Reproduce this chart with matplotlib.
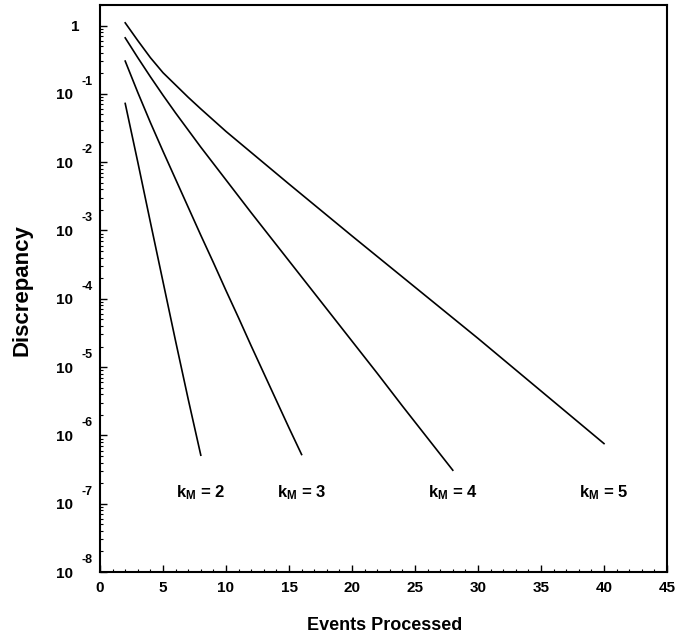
import matplotlib
matplotlib.use('Agg')
import matplotlib.pyplot as plt
import numpy as np
import matplotlib.transforms as mtransforms
from matplotlib.ticker import FixedLocator, MultipleLocator, LogLocator, FixedFormatter, NullFormatter

plt.rcParams['font.family'] = ['Liberation Sans', 'DejaVu Sans']
plt.rcParams['mathtext.fontset'] = 'custom'
plt.rcParams['mathtext.rm'] = 'Liberation Sans'
plt.rcParams['mathtext.it'] = 'Liberation Sans'
plt.rcParams['mathtext.bf'] = 'Liberation Sans:bold'

# ---- data (log10 of discrepancy) ----
k2_x = [2, 3, 4, 5, 6, 7, 8]
k2_log10 = [-1.14, -2.00, -2.88, -3.75, -4.62, -5.47, -6.29]

k3_x = [2, 3, 4, 5, 6, 7, 8, 9, 10, 11, 12, 13, 14, 15, 16]
k3_log10 = [-0.52, -0.98, -1.42, -1.84, -2.25, -2.66, -3.07, -3.47, -3.88,
            -4.28, -4.69, -5.09, -5.49, -5.89, -6.28]

k4_x = [2, 3, 4, 5, 6, 8, 10, 12, 14, 16, 18, 20, 22, 24, 26, 28]
k4_log10 = [-0.18, -0.47, -0.75, -1.02, -1.28, -1.78, -2.26, -2.74, -3.21,
            -3.68, -4.15, -4.62, -5.09, -5.57, -6.04, -6.51]

k5_x = [2, 3, 4, 5, 6, 7, 8, 10, 15, 20, 25, 30, 35, 40]
k5_log10 = [0.04, -0.22, -0.47, -0.69, -0.87, -1.05, -1.22, -1.55, -2.32,
            -3.08, -3.83, -4.58, -5.35, -6.12]

series_labels = ["2", "3", "4", "5"]
label_y = 1.45e-7

x_ticks = [0, 5, 10, 15, 20, 25, 30, 35, 40, 45]
y_exponents = [0, -1, -2, -3, -4, -5, -6, -7, -8]

# ---- figure ----
fig = plt.figure(figsize=(6.75, 6.4), dpi=100)
ax = fig.add_axes([100/675, 1-572/640, 567/675, 567/640])

series = [(k2_x, k2_log10), (k3_x, k3_log10), (k4_x, k4_log10), (k5_x, k5_log10)]
for (xs, ls), lab in zip(series, series_labels):
    ax.plot(xs, 10.0**np.array(ls), color='black', lw=1.2)
    ax.text(xs[-1], label_y, r"k$_{\mathregular{M}}$" + " = " + lab,
            ha='center', va='center', fontsize=12, fontweight='bold')

ax.set_yscale('log')
ax.set_xlim(0, 45)
ax.set_ylim(1e-8, 2.0)

ax.xaxis.set_major_locator(FixedLocator(x_ticks))
ax.xaxis.set_minor_locator(MultipleLocator(1))
ax.set_xticklabels([str(t) for t in x_ticks])

yticks = [10.0**e for e in y_exponents]
ax.yaxis.set_major_locator(FixedLocator(yticks))
ax.yaxis.set_major_formatter(FixedFormatter(["1" if e == 0 else "10" for e in y_exponents]))
ax.yaxis.set_minor_locator(LogLocator(base=10, subs=np.arange(2, 10), numticks=20))
ax.yaxis.set_minor_formatter(NullFormatter())

ax.tick_params(which='major', direction='in', length=5, width=1,
               labelsize=11, top=False, right=False)
ax.tick_params(which='minor', direction='in', length=2.5, width=0.8,
               top=False, right=False)
ax.tick_params(axis='y', which='major', pad=19.4)
ax.tick_params(axis='x', which='major', pad=6.5)
for lbl in ax.get_xticklabels() + ax.get_yticklabels():
    lbl.set_fontweight('bold')

# shift the "1" label slightly right like the original
for lbl, e in zip(ax.get_yticklabels(), y_exponents):
    if e == 0:
        lbl.set_transform(lbl.get_transform() +
                          mtransforms.ScaledTranslation(6/100, 0, fig.dpi_scale_trans))

# exponents
for e in y_exponents:
    if e == 0:
        continue
    ax.annotate(str(e), xy=(0, 10.0**e), xycoords=('axes fraction', 'data'),
                xytext=(-7*0.72, 12*0.72), textcoords='offset points',
                ha='right', va='center', fontsize=9, fontweight='bold',
                annotation_clip=False)

for sp in ax.spines.values():
    sp.set_linewidth(1.5)

fig.text(385/675, 1-625/640, "Events Processed", ha='center', va='center',
         fontsize=13, fontweight='bold')
fig.text(22/675, 1-290/640, "Discrepancy", ha='center', va='center',
         rotation=90, fontsize=16, fontweight='bold')

fig.savefig('out.png', dpi=100)
